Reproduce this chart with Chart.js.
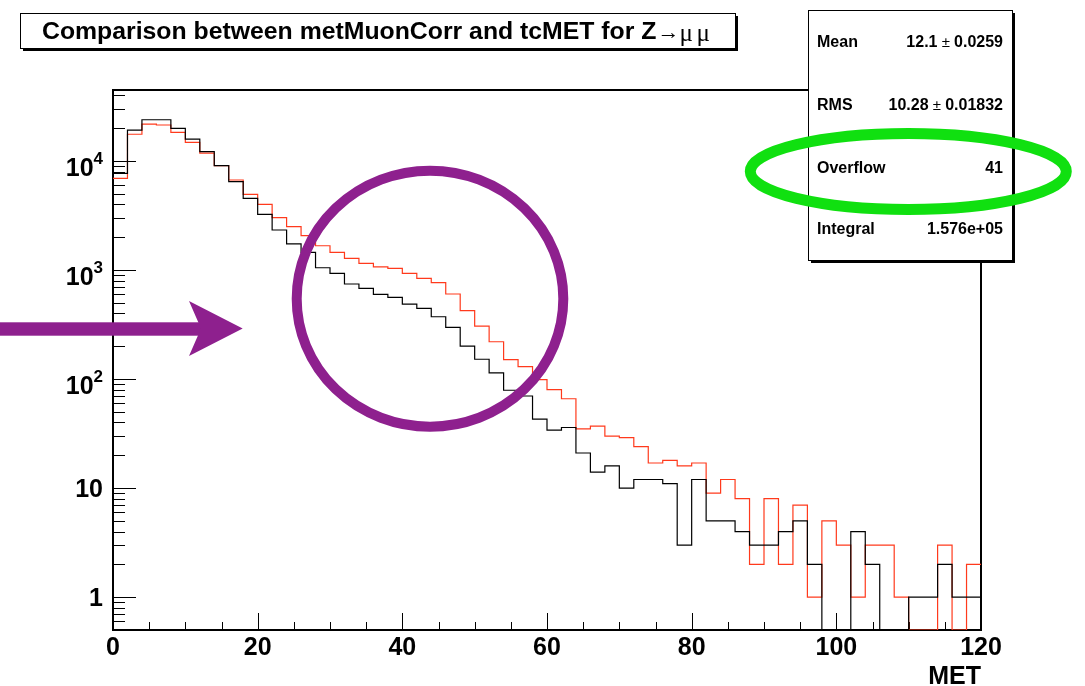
<!DOCTYPE html>
<html>
<head>
<meta charset="utf-8">
<title>metMuonCorr vs tcMET</title>
<script src="https://cdn.jsdelivr.net/npm/chart.js@4.4.1/dist/chart.umd.min.js"></script>
<style>
  html, body { margin: 0; padding: 0; background: #ffffff; }
  #wrap { width: 1085px; height: 686px; position: relative; }
  canvas { display: block; }
</style>
</head>
<body>
<div id="wrap"><canvas id="met" width="1085" height="686"></canvas></div>
<script>
// ---- MET histograms, 60 bins of 2 GeV between 0 and 120 ----
const binLow = [
  0, 2, 4, 6, 8, 10, 12, 14, 16, 18,
  20, 22, 24, 26, 28, 30, 32, 34, 36, 38,
  40, 42, 44, 46, 48, 50, 52, 54, 56, 58,
  60, 62, 64, 66, 68, 70, 72, 74, 76, 78,
  80, 82, 84, 86, 88, 90, 92, 94, 96, 98,
  100, 102, 104, 106, 108, 110, 112, 114, 116, 118
];

// entries per bin, metMuonCorr (black)
const metMuonCorr = [
  7700, 19200, 23900, 23900, 19900, 15900, 12200, 9060, 6460, 4540,
  3240, 2330, 1740, 1450, 1050, 931, 745, 680, 598, 562,
  488, 445, 373, 298, 201, 152, 114, 79, 70, 43,
  34, 36, 21, 14, 16, 10, 12, 12, 11, 3,
  12, 5, 5, 4, 3, 3, 4, 5, 2, 0,
  0, 4, 2, 0, 0, 1, 1, 2, 1, 1
];

// entries per bin, tcMET (red)
const tcMET = [
  6930, 17600, 21800, 21400, 18300, 14800, 11800, 9060, 6700, 4940,
  4000, 3020, 2500, 2070, 1670, 1450, 1280, 1150, 1070, 1035,
  931, 839, 766, 603, 424, 306, 220, 151, 130, 99,
  80, 66, 35, 37, 30, 29, 24, 17, 18, 16,
  17, 9, 12, 8, 2, 8, 2, 7, 1, 5,
  3, 1, 3, 3, 1, 0, 0, 3, 0, 2
];

// axis ranges and labels
const X_MIN = 0, X_MAX = 120;
const Y_MIN = 0.5, Y_MAX = 44800;
const xLabelValues = [0, 20, 40, 60, 80, 100, 120];
const yLabelValues = [1, 10, 100, 1000, 10000];
const yLabelBase = ['1', '10', '10', '10', '10'];
const yLabelExp = ['', '', '2', '3', '4'];

// statistics panel
const statNames = ['Mean', 'RMS', 'Overflow', 'Integral'];
const statValues = ['12.1', '10.28', '41', '1.576e+05'];
const statErrors = ['0.0259', '0.01832', '', ''];

const titleMain = 'Comparison between metMuonCorr and tcMET for Z';
const titleSymbols = ['\u2192', '\u03bc', '\u03bc'];
const xTitle = 'MET';

// ---- drawing helpers ----
const SANS = '"Liberation Sans", Arial, Helvetica, sans-serif';
const SERIF = '"Liberation Serif", "Times New Roman", serif';

function histPoints(counts) {
  // step outline: one point at each bin's low edge, plus the closing edge
  const pts = binLow.map((x, i) => ({ x: x, y: counts[i] > 0 ? counts[i] : Y_MIN }));
  pts.push({ x: X_MAX, y: pts[pts.length - 1].y });
  return pts;
}

function drawRuns(ctx, runs, x, y, align) {
  let total = 0;
  for (const r of runs) { ctx.font = r.font; total += ctx.measureText(r.text).width; }
  let cx = align === 'right' ? x - total : (align === 'center' ? x - total / 2 : x);
  ctx.textAlign = 'left';
  for (const r of runs) {
    ctx.font = r.font;
    ctx.fillText(r.text, cx, y + (r.dy || 0));
    cx += ctx.measureText(r.text).width;
  }
}

function line(ctx, x1, y1, x2, y2) {
  ctx.beginPath(); ctx.moveTo(x1, y1); ctx.lineTo(x2, y2); ctx.stroke();
}

// frame, ticks, labels, title, stats panel and the highlight marks
const rootStyle = {
  id: 'rootStyle',
  beforeDatasetsDraw(chart) {
    const ctx = chart.ctx;
    const xs = chart.scales.x, ys = chart.scales.y;
    const a = chart.chartArea;
    ctx.save();
    ctx.strokeStyle = '#000';
    // x ticks (inside), every 5, long every 20
    ctx.lineWidth = 1;
    for (let v = X_MIN; v <= X_MAX; v += 5) {
      const px = Math.round(xs.getPixelForValue(v)) + 0.5;
      const len = v % 20 === 0 ? 17 : 8;
      line(ctx, px, a.bottom, px, a.bottom - len);
    }
    // y ticks (inside), log: long at decades
    for (let e = -1; e <= 5; e++) {
      for (let m = 1; m <= 9; m++) {
        const v = m * Math.pow(10, e);
        if (v < Y_MIN || v > Y_MAX) continue;
        const py = Math.round(ys.getPixelForValue(v)) + 0.5;
        const len = m === 1 ? 23 : 12;
        line(ctx, a.left, py, a.left + len, py);
      }
    }
    // frame
    ctx.lineWidth = 2;
    ctx.strokeRect(a.left, a.top, a.right - a.left, a.bottom - a.top);
    ctx.restore();
  },
  afterDraw(chart) {
    const ctx = chart.ctx;
    const xs = chart.scales.x, ys = chart.scales.y;
    const a = chart.chartArea;
    ctx.save();
    ctx.fillStyle = '#000';
    ctx.textBaseline = 'alphabetic';

    // x labels
    ctx.textAlign = 'center';
    ctx.font = 'bold 25px ' + SANS;
    for (const v of xLabelValues) {
      ctx.fillText(String(v), xs.getPixelForValue(v), a.bottom + 25);
    }
    // x title
    ctx.textAlign = 'right';
    ctx.fillText(xTitle, a.right, 684);

    // y labels with exponents
    yLabelValues.forEach((v, i) => {
      const py = ys.getPixelForValue(v);
      const runs = [{ text: yLabelBase[i], font: 'bold 25px ' + SANS }];
      if (yLabelExp[i]) runs.push({ text: yLabelExp[i], font: 'bold 17px ' + SANS, dy: -12 });
      drawRuns(ctx, runs, a.left - 10, py + (yLabelExp[i] ? 15 : 9), 'right');
    });

    // title box with shadow
    const tb = { x: 20, y: 13, w: 715, h: 35 };
    ctx.fillStyle = '#000';
    ctx.fillRect(tb.x + 3, tb.y + 3, tb.w, tb.h);
    ctx.fillStyle = '#fff';
    ctx.fillRect(tb.x, tb.y, tb.w, tb.h);
    ctx.strokeStyle = '#000';
    ctx.lineWidth = 1;
    ctx.strokeRect(tb.x + 0.5, tb.y + 0.5, tb.w, tb.h);
    ctx.fillStyle = '#000';
    ctx.textAlign = 'left';
    ctx.font = 'bold 24.8px ' + SANS;
    ctx.fillText(titleMain, 42, 39);
    let tx = 42 + ctx.measureText(titleMain).width + 1;
    ctx.font = '22px ' + SERIF;
    ctx.fillText(titleSymbols[0], tx, 39);
    tx += 22;
    ctx.font = '25px ' + SERIF;
    ctx.fillText(titleSymbols[1], tx, 41);
    tx += 17;
    ctx.fillText(titleSymbols[2], tx, 41);

    // statistics box with shadow
    const sb = { x: 808, y: 10, w: 204, h: 250 };
    ctx.fillStyle = '#000';
    ctx.fillRect(sb.x + 3, sb.y + 3, sb.w, sb.h);
    ctx.fillStyle = '#fff';
    ctx.fillRect(sb.x, sb.y, sb.w, sb.h);
    ctx.strokeRect(sb.x + 0.5, sb.y + 0.5, sb.w, sb.h);
    ctx.fillStyle = '#000';
    const rowY = [47, 110, 173, 234];
    statNames.forEach((name, i) => {
      ctx.textAlign = 'left';
      ctx.font = 'bold 16px ' + SANS;
      ctx.fillText(name, 817, rowY[i]);
      const runs = [{ text: statValues[i], font: 'bold 16px ' + SANS }];
      if (statErrors[i]) {
        runs.push({ text: ' \u00b1 ', font: '15px ' + SANS });
        runs.push({ text: statErrors[i], font: 'bold 16px ' + SANS });
      }
      drawRuns(ctx, runs, 1003, rowY[i], 'right');
    });

    // purple ring around the 30-50 GeV region
    ctx.strokeStyle = '#8e208e';
    ctx.lineWidth = 10;
    ctx.beginPath();
    ctx.ellipse(430, 298.7, 133.3, 128, 0, 0, Math.PI * 2);
    ctx.stroke();

    // purple arrow
    ctx.fillStyle = '#8e208e';
    ctx.fillRect(0, 322.3, 204, 13.4);
    ctx.beginPath();
    ctx.moveTo(242.7, 328.5);
    ctx.lineTo(189, 301);
    ctx.lineTo(201, 328.5);
    ctx.lineTo(189, 356);
    ctx.closePath();
    ctx.fill();

    // green ellipse on the overflow row
    ctx.strokeStyle = '#10e010';
    ctx.lineWidth = 11;
    ctx.beginPath();
    ctx.ellipse(908.3, 171.5, 158, 38, 0, 0, Math.PI * 2);
    ctx.stroke();

    ctx.restore();
  }
};

new Chart(document.getElementById('met'), {
  type: 'line',
  data: {
    datasets: [
      {
        label: 'metMuonCorr',
        data: histPoints(metMuonCorr),
        borderColor: '#000000',
        borderWidth: 1.2,
        stepped: 'before',
        pointRadius: 0,
        fill: false
      },
      {
        label: 'tcMET',
        data: histPoints(tcMET),
        borderColor: '#ff3a1c',
        borderWidth: 1.2,
        stepped: 'before',
        pointRadius: 0,
        fill: false
      }
    ]
  },
  options: {
    responsive: false,
    animation: false,
    devicePixelRatio: 1,
    layout: { padding: { left: 113, right: 104, top: 90, bottom: 56 } },
    plugins: { legend: { display: false }, title: { display: false }, tooltip: { enabled: false } },
    scales: {
      x: { type: 'linear', min: X_MIN, max: X_MAX, display: false },
      y: { type: 'logarithmic', min: Y_MIN, max: Y_MAX, display: false }
    }
  },
  plugins: [rootStyle]
});
</script>
</body>
</html>
